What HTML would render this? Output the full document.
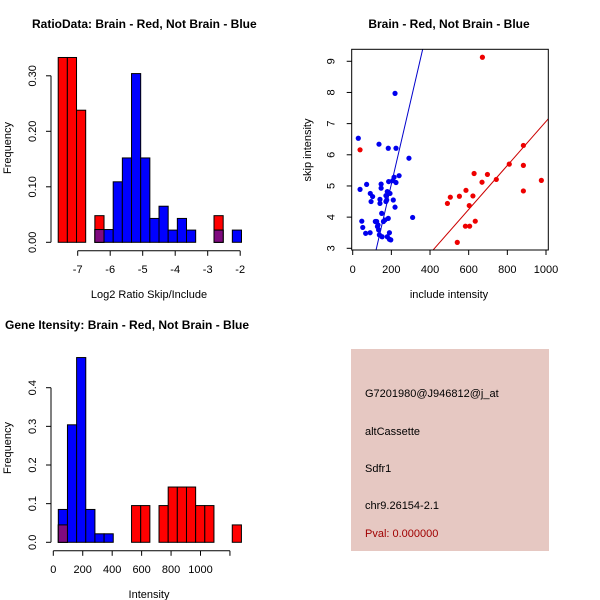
<!DOCTYPE html>
<html><head><meta charset="utf-8"><style>
html,body{margin:0;padding:0;background:#fff}
svg{display:block;font-family:"Liberation Sans",sans-serif}
</style></head><body>
<svg id="c" width="600" height="600" viewBox="0 0 600 600">
<rect x="351" y="349" width="198" height="202" fill="#e6c8c2"/>
<g font-size="11" fill="#000">
<text x="365" y="397">G7201980@J946812@j_at</text>
<text x="365" y="435">altCassette</text>
<text x="365" y="472">Sdfr1</text>
<text x="365" y="509">chr9.26154-2.1</text>
<text x="365" y="537" fill="#a00000">Pval: 0.000000</text>
</g>
</svg>
<script>
// ---- Ratio histogram data ----
const ratioStart = -7.6, ratioBinW = 0.282;
const ratioRed = [0.333,0.333,0.238,0,0.048,0,0,0,0,0,0,0,0,0,0,0,0,0.048,0,0];
const ratioBlue = [0,0,0,0,0.023,0.023,0.109,0.152,0.304,0.152,0.043,0.065,0.022,0.043,0.022,0,0,0.022,0,0.022];
const ratioXTicks = [-7,-6,-5,-4,-3,-2];
const ratioYTicks = [0,0.1,0.2,0.3];
const ratioYLabels = ["0.00","0.10","0.20","0.30"];
// ---- Gene intensity histogram data ----
const intStart = 34, intBinW = 62.2;
const intRed = [0.045,0,0,0,0,0,0,0,0.095,0.095,0,0.095,0.143,0.143,0.143,0.095,0.095,0,0,0.045];
const intBlue = [0.085,0.304,0.478,0.085,0.022,0.022,0,0,0,0,0,0,0,0,0,0,0,0,0,0];
const intXTicks = [0,200,400,600,800,1000,1200];
const intXLabels = ["0","200","400","600","800","1000",""];
const intYTicks = [0,0.1,0.2,0.3,0.4];
const intYLabels = ["0.0","0.1","0.2","0.3","0.4"];
// ---- Scatter data ----
const blueX = [29,38,47,52,67,72,91,95,90,103,136,124,131,134,138,141,141,147,147,150,152,159,167,172,176,179,184,186,190,193,184,190,197,207,219,224,224,219,240,210,291,310,214,117,128,172,179];
const blueY = [6.53,4.89,3.87,3.67,3.48,5.05,4.76,4.50,3.50,4.66,6.34,3.86,3.75,3.59,3.43,4.44,4.57,5.06,4.93,4.12,3.37,3.86,3.91,4.50,4.55,3.37,6.21,5.14,3.50,4.76,3.96,3.29,3.27,5.17,7.97,6.21,5.11,4.32,5.33,4.55,5.89,3.99,5.28,3.86,3.70,4.69,4.82];
const redX = [38,671,490,505,541,552,583,586,603,605,622,628,634,669,697,743,810,883,883,883,976];
const redY = [6.16,9.13,4.44,4.64,3.19,4.67,3.71,4.86,4.37,3.71,4.68,5.40,3.87,5.12,5.37,5.21,5.70,6.30,5.66,4.84,5.18];
const blueFit = [-0.28,0.0267];
const redFit = [0.01,0.00706];
const scXTicks = [0,200,400,600,800,1000];
const scYTicks = [3,4,5,6,7,8,9];

const svg = document.getElementById('c');
const NS = 'http://www.w3.org/2000/svg';
function mk(tag, attrs, parent){
  const e = document.createElementNS(NS, tag);
  for (const k in attrs) e.setAttribute(k, attrs[k]);
  (parent||svg).appendChild(e);
  return e;
}
function txt(x,y,s,opt,parent){
  const t = mk('text',Object.assign({x:x,y:y,'font-size':11,'text-anchor':'middle'},opt||{}),parent);
  t.textContent = s; return t;
}

function hist(cfg){
  const g = mk('g',{});
  
  
  const xs = v => cfg.x0 + (v - cfg.xv0) * cfg.xk;
  const ys = v => cfg.y0 - v * cfg.yk;
  cfg.red.forEach((r,i)=>{
    const b = cfg.blue[i];
    const l = xs(cfg.start + i*cfg.w), rr = xs(cfg.start + (i+1)*cfg.w);
    const drawBar = (v,fill,nm)=>{
      const e = mk('rect',{x:l,y:ys(v),width:rr-l,height:ys(0)-ys(v),fill:fill,stroke:'#000','stroke-width':1},g);
      
      
    };
    if (r>0) drawBar(r,'#ff0000','bar-red');
    if (b>0) drawBar(b,'#0000ff','bar-blue');
    if (r>0 && b>0) drawBar(Math.min(r,b),'#7f0a7f','bar-overlap');
  });
  const xa = mk('g',{stroke:'#000'},g);
  
  
  const ay = cfg.y0 + 8.5;
  mk('line',{x1:xs(cfg.xt[0]),x2:xs(cfg.xt[cfg.xt.length-1]),y1:ay,y2:ay},xa);
  cfg.xt.forEach((v,i)=>{
    mk('line',{x1:xs(v),x2:xs(v),y1:ay,y2:ay+5},xa);
    const t = txt(xs(v),ay+22,cfg.xl[i],{stroke:'none'},xa);
    
    
  });
  const ya = mk('g',{stroke:'#000'},g);
  
  
  const ax = 51;
  mk('line',{x1:ax,x2:ax,y1:ys(cfg.yt[0]),y2:ys(cfg.yt[cfg.yt.length-1])},ya);
  cfg.yt.forEach((v,i)=>{
    mk('line',{x1:ax-5,x2:ax,y1:ys(v),y2:ys(v)},ya);
    const t = txt(0,0,cfg.yl[i],{stroke:'none',transform:`translate(${ax-15},${ys(v)}) rotate(-90)`},ya);
    
    
  });
  const xt = txt(cfg.xTitleX, cfg.xTitleY, cfg.xTitle, {}, g);
  
  
  const yt = txt(0,0,'Frequency',{transform:`translate(11,${cfg.yTitleY}) rotate(-90)`},g);
  
  
  const tt = txt(cfg.titleX, cfg.titleY, cfg.title, {'font-weight':'bold','font-size':12,'text-anchor':'start'}, g);
  
  
}

hist({name:'ratio-histogram',red:ratioRed,blue:ratioBlue,start:ratioStart,w:ratioBinW,
  x0:77.7,xv0:-7,xk:32.5,y0:242.3,yk:555,xt:ratioXTicks,xl:ratioXTicks.map(String),
  yt:ratioYTicks,yl:ratioYLabels,xTitle:'Log2 Ratio Skip/Include',xTitleX:149,xTitleY:298,yTitleY:148,
  title:'RatioData: Brain - Red, Not Brain - Blue',titleX:32,titleY:28});
hist({name:'intensity-histogram',red:intRed,blue:intBlue,start:intStart,w:intBinW,
  x0:53.3,xv0:0,xk:0.1472,y0:542.3,yk:386.5,xt:intXTicks,xl:intXLabels,
  yt:intYTicks,yl:intYLabels,xTitle:'Intensity',xTitleX:149,xTitleY:598,yTitleY:448,
  title:'Gene Itensity: Brain - Red, Not Brain - Blue',titleX:5,titleY:329});

(function(){
  const g = mk('g',{});
  
  
  const L=351.7,R=548.3,T=49.3,B=250;
  const xs = v => 352.7 + v*0.1933;
  const ys = v => 248.3 - (v-3)*31.17;
  const cp = mk('clipPath',{id:'clp'},g);
  mk('rect',{x:L,y:T,width:R-L,height:B-T},cp);
  const fit = (c,col,nm)=>{
    const xa=0, xb=1100;
    const e = mk('line',{x1:xs(xa),y1:ys(c[0]+c[1]*xa),x2:xs(xb),y2:ys(c[0]+c[1]*xb),stroke:col,'stroke-width':1,'clip-path':'url(#clp)'},g);
    
    
  };
  fit(blueFit,'#0000cc','blue-fit-line');
  fit(redFit,'#cc0000','red-fit-line');
  blueX.forEach((x,i)=>{
    const p = mk('circle',{cx:xs(x),cy:ys(blueY[i]),r:2.6,fill:'#0000ee'},g);
    
    
  });
  redX.forEach((x,i)=>{
    const p = mk('circle',{cx:xs(x),cy:ys(redY[i]),r:2.6,fill:'#ee0000'},g);
    
    
  });
  const fr = mk('rect',{x:L,y:T,width:R-L,height:B-T,fill:'none',stroke:'#000'},g);
  
  
  scXTicks.forEach(v=>{
    mk('line',{x1:xs(v),x2:xs(v),y1:B,y2:B+5,stroke:'#000'},g);
    const t = txt(xs(v),B+23,String(v),{},g);
    
    
  });
  scYTicks.forEach(v=>{
    mk('line',{x1:L-5,x2:L,y1:ys(v),y2:ys(v),stroke:'#000'},g);
    const t = txt(0,0,String(v),{transform:`translate(${L-17},${ys(v)}) rotate(-90)`},g);
    
    
  });
  const xt = txt(449,298,'include intensity',{},g);
  
  
  const yt = txt(0,0,'skip intensity',{transform:'translate(311,150) rotate(-90)'},g);
  
  
  const tt = txt(449,28,'Brain - Red, Not Brain - Blue',{'font-weight':'bold','font-size':12},g);
  
  
})();
</script>
</body></html>
